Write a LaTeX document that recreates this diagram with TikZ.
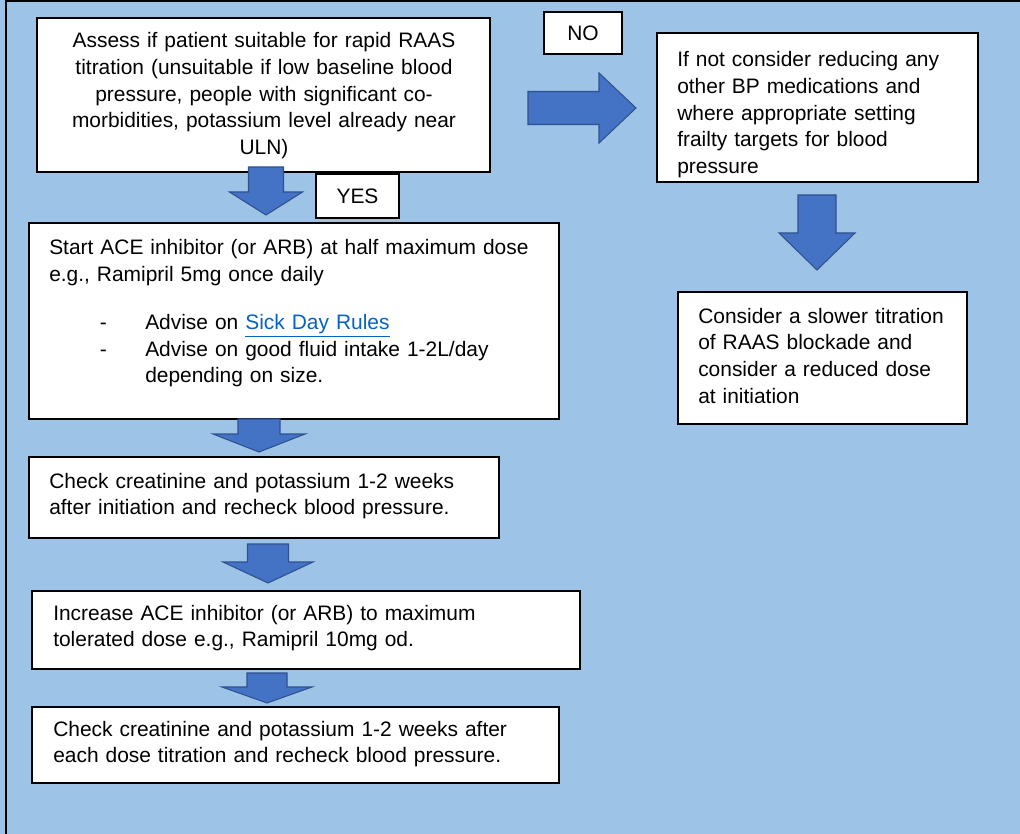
\documentclass[tikz,border=0pt]{standalone}
\usepackage{fontspec}
\setmainfont{Liberation Sans}
\usetikzlibrary{fit}
\definecolor{panelblue}{HTML}{9DC3E6}
\definecolor{arrowfill}{HTML}{4472C4}
\definecolor{arrowline}{HTML}{2F528F}
\definecolor{linkblue}{HTML}{0563C1}
\newcommand{\bodyfont}{\fontsize{15.7pt}{20pt}\selectfont}
% block arrows: (centre : start : head start : tip)(shaft half width : head half width)
\def\downblock(#1:#2:#3:#4)(#5:#6){\draw[blockarrow] ({#1-#5},#2) -- ({#1+#5},#2) -- ({#1+#5},#3) -- ({#1+#6},#3) -- (#1,#4) -- ({#1-#6},#3) -- ({#1-#5},#3) -- cycle;}
\def\rightblock(#1:#2:#3:#4)(#5:#6){\draw[blockarrow] (#2,{#1-#5}) -- (#2,{#1+#5}) -- (#3,{#1+#5}) -- (#3,{#1+#6}) -- (#4,#1) -- (#3,{#1-#6}) -- (#3,{#1-#5}) -- cycle;}

\begin{document}
\begin{tikzpicture}[x=0.75pt,y=-0.75pt,
	box/.style={draw=black, fill=white, line width=0.9pt, inner sep=0pt},
	txt/.style={font=\bodyfont, inner sep=0pt, align=left, text width=#1, anchor=base west},
	blockarrow/.style={fill=arrowfill, draw=arrowline, line width=0.8pt, line join=miter}]
			%%%%% PANEL %%%%%
			\fill[panelblue] (0,0) rectangle (1020,834);
			\useasboundingbox (0,0) rectangle (1020,834);
			\draw[line width=1.6pt] (6,834) -- (6,1.2) -- (1020,1.2);
			
			%%%%% BOXES %%%%%
			\node[box, fit={(37,18) (490,172)}] (assess) {};
			\node[box, fit={(544,12) (622,54)}] (nobox) {};
			\node[box, fit={(316,174) (399,218)}] (yesbox) {};
			\node[box, fit={(657,33) (978,182)}] (reduce) {};
			\node[box, fit={(678,292) (967,424)}] (slower) {};
			\node[box, fit={(29,223) (559,419)}] (start) {};
			\node[box, fit={(29,457) (499,538)}] (check1) {};
			\node[box, fit={(32,591) (580,669)}] (increase) {};
			\node[box, fit={(32,707) (559,783)}] (check2) {};
			
			%%%%% TEXTS %%%%%
			\node[font=\bodyfont, inner sep=0pt] (no-t) at (nobox.center) {NO};
			\node[font=\bodyfont, inner sep=0pt] (yes-t) at (yesbox.center) {YES};
			\node[txt=330pt, align=center, anchor=base] (assess-t) at (264,48) {Assess if patient suitable for rapid RAAS\\ titration (unsuitable if low baseline blood\\ pressure, people with significant co-\\ morbidities, potassium level already near\\ ULN)};
			\node[txt=215pt] (reduce-t) at (677,67) {If not consider reducing any\\ other BP medications and\\ where appropriate setting\\ frailty targets for blood\\ pressure};
			\node[txt=195pt] (slower-t) at (698,323) {Consider a slower titration\\ of RAAS blockade and\\ consider a reduced dose\\ at initiation};
			\node[txt=375pt] (start-t) at (49,255) {Start ACE inhibitor (or ARB) at half maximum dose\\ e.g., Ramipril 5mg once daily\\[16pt]
				\hspace*{38pt}\makebox[34pt][l]{-}Advise on \textcolor{linkblue}{\underline{Sick Day Rules}}\\
				\hspace*{38pt}\makebox[34pt][l]{-}Advise on good fluid intake 1-2L/day\\
				\hspace*{72pt}depending on size.};
			\node[txt=330pt] (check1-t) at (49,488) {Check creatinine and potassium 1-2 weeks\\ after initiation and recheck blood pressure.};
			\node[txt=388pt] (increase-t) at (53,620) {Increase ACE inhibitor (or ARB) to maximum\\ tolerated dose e.g., Ramipril 10mg od.};
			\node[txt=372pt] (check2-t) at (53,736) {Check creatinine and potassium 1-2 weeks after\\ each dose titration and recheck blood pressure.};
			
			%%%%% ARROWS %%%%%
			\rightblock(108:528:599:636)(16.5:35)
			\downblock(266:167:192:215)(17.5:36.5)
			\downblock(817:195:233:270)(19:38)
			\downblock(259:419:434:452)(21:46)
			\downblock(268:544:562:583)(20.5:45)
			\downblock(267:673:687:703)(20:45)
			
		\end{tikzpicture}
\end{document}
